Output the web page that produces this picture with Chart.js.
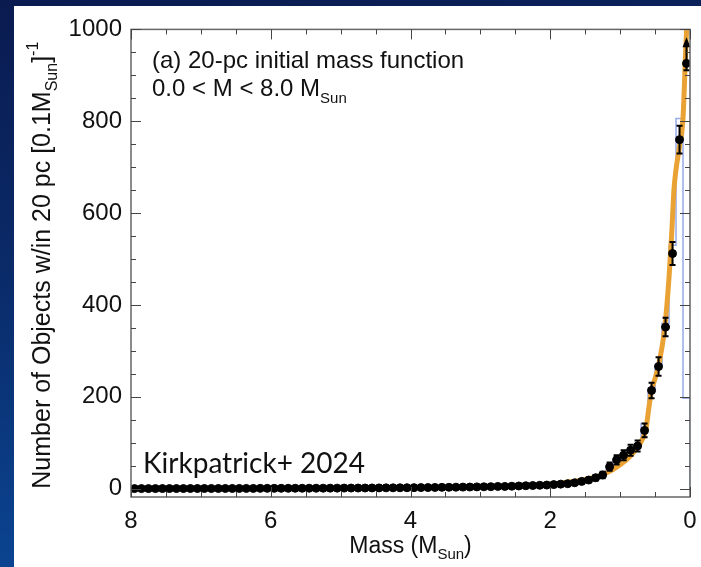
<!DOCTYPE html>
<html>
<head>
<meta charset="utf-8">
<script src="https://cdn.jsdelivr.net/npm/chart.js@4.4.1/dist/chart.umd.min.js"></script>
<style>
  html, body { margin: 0; padding: 0; width: 701px; height: 567px; overflow: hidden; }
  body { background: linear-gradient(172deg, #0a1b50 0%, #0a2a68 40%, #0b4c9e 100%); }
  #panel { position: absolute; left: 14px; top: 6px; width: 687px; height: 561px; background: #fff; }
</style>
</head>
<body>
<div id="panel"><canvas id="imf" width="687" height="561"></canvas></div>
<script>
// 0.1 Msun bins, centre of each bin
const massBins = [
  0.05, 0.15, 0.25, 0.35, 0.45, 0.55, 0.65, 0.75, 0.85, 0.95,
  1.05, 1.15, 1.25, 1.35, 1.45, 1.55, 1.65, 1.75, 1.85, 1.95,
  2.05, 2.15, 2.25, 2.35, 2.45, 2.55, 2.65, 2.75, 2.85, 2.95,
  3.05, 3.15, 3.25, 3.35, 3.45, 3.55, 3.65, 3.75, 3.85, 3.95,
  4.05, 4.15, 4.25, 4.35, 4.45, 4.55, 4.65, 4.75, 4.85, 4.95,
  5.05, 5.15, 5.25, 5.35, 5.45, 5.55, 5.65, 5.75, 5.85, 5.95,
  6.05, 6.15, 6.25, 6.35, 6.45, 6.55, 6.65, 6.75, 6.85, 6.95,
  7.05, 7.15, 7.25, 7.35, 7.45, 7.55, 7.65, 7.75, 7.85, 7.95
];
const binWidth = 0.1;

// corrected space density per bin (points)
const counts = [
  926, 760, 512, 352, 266, 214, 127, 93, 84, 73,
  63, 48, 30, 24, 19, 16, 13, 11, 10, 9,
  8, 7.5, 7, 6.5, 6, 5.5, 5, 5, 4.5, 4.2,
  4, 3.7, 3.5, 3.3, 3.1, 3, 2.8, 2.6, 2.5, 2.4,
  2.2, 2.1, 2, 1.9, 1.8, 1.7, 1.6, 1.5, 1.5, 1.4,
  1.3, 1.3, 1.2, 1.1, 1.1, 1, 1, 0.9, 0.9, 0.8,
  0.8, 0.8, 0.7, 0.7, 0.7, 0.6, 0.6, 0.6, 0.5, 0.5,
  0.5, 0.5, 0.4, 0.4, 0.4, 0.4, 0.3, 0.3, 0.3, 0.3
];
// asymmetric uncertainties (down / up)
const errDown = [
  15, 30, 25, 20, 20, 17, 15, 12, 12, 11,
  10, 9, 7, 6, 5, 5, 4, 4, 3, 3,
  3, 3, 3, 2, 2, 2, 2, 2, 2, 2,
  2, 2, 2, 2, 2, 2, 1, 1, 1, 1,
  1, 1, 1, 1, 1, 1, 1, 1, 1, 1,
  1, 1, 1, 1, 1, 1, 1, 1, 1, 1,
  1, 1, 1, 1, 1, 1, 1, 1, 1, 1,
  1, 1, 1, 1, 1, 1, 1, 1, 1, 1
];
const errUp = [
  48, 30, 25, 20, 20, 17, 15, 12, 12, 11,
  10, 9, 7, 6, 5, 5, 4, 4, 3, 3,
  3, 3, 3, 2, 2, 2, 2, 2, 2, 2,
  2, 2, 2, 2, 2, 2, 1, 1, 1, 1,
  1, 1, 1, 1, 1, 1, 1, 1, 1, 1,
  1, 1, 1, 1, 1, 1, 1, 1, 1, 1,
  1, 1, 1, 1, 1, 1, 1, 1, 1, 1,
  1, 1, 1, 1, 1, 1, 1, 1, 1, 1
];
// first bin is a lower limit
const lowerLimitBins = [0];

// raw histogram per bin (thin step line)
const histCounts = [
  197, 806, 530, 360, 270, 218, 142, 95, 86, 76,
  64, 50, 31, 25, 24, 17, 14, 11, 10, 9,
  8, 7.5, 7, 6.5, 6, 5.5, 5, 5, 4.5, 4.2,
  4, 3.7, 3.5, 3.3, 3.1, 3, 2.8, 2.6, 2.5, 2.4,
  2.2, 2.1, 2, 1.9, 1.8, 1.7, 1.6, 1.5, 1.5, 1.4,
  1.3, 1.3, 1.2, 1.1, 1.1, 1, 1, 0.9, 0.9, 0.8,
  0.8, 0.8, 0.7, 0.7, 0.7, 0.6, 0.6, 0.6, 0.5, 0.5,
  0.5, 0.5, 0.4, 0.4, 0.4, 0.4, 0.3, 0.3, 0.3, 0.3
];

// best-fit IMF curve
const fitMass = [0.03, 0.06, 0.10, 0.15, 0.20, 0.23, 0.26, 0.30, 0.36, 0.41, 0.46, 0.51, 0.55,
  0.59, 0.63, 0.68, 0.75, 0.85, 0.95, 1.05, 1.15, 1.3, 1.5, 1.7, 1.9, 2.2, 2.6, 3.0, 3.5, 4.0,
  5.0, 6.0, 7.0, 8.0];
const fitCounts = [1060, 960, 807, 745, 695, 650, 560, 460, 352, 300, 262, 235, 214,
  175, 130, 108, 90, 72, 58, 47, 38, 28, 20, 15, 11.5, 8, 6, 4.5, 3.3, 2.5,
  1.5, 1.0, 0.7, 0.5];

const xTicks = [0, 2, 4, 6, 8];
const yTicks = [0, 200, 400, 600, 800, 1000];

const FONT = '"Liberation Sans", Arial, sans-serif';
const INK = '#111';

// histogram as left-edge steps, closed at both ends
const histPoints = [{ x: 0, y: 0 }];
massBins.forEach((m, i) => histPoints.push({ x: m - binWidth / 2, y: histCounts[i] }));
histPoints.push({ x: 8, y: histCounts[histCounts.length - 1] });

function drawRich(ctx, x, y, segs) {
  let cx = x;
  segs.forEach(s => {
    ctx.font = s.size + 'px ' + (s.font || FONT);
    ctx.fillText(s.text, cx, y + (s.dy || 0));
    cx += ctx.measureText(s.text).width;
  });
  return cx - x;
}

function richWidth(ctx, segs) {
  let w = 0;
  segs.forEach(s => {
    ctx.font = s.size + 'px ' + (s.font || FONT);
    w += ctx.measureText(s.text).width;
  });
  return w;
}

const decor = {
  id: 'imfDecor',
  beforeDatasetDraw(chart, args) {
    if (args.index !== 0) return;
    // error bars sit under the dots
    const { ctx, scales: { x, y } } = chart;
    ctx.save();
    ctx.strokeStyle = '#000';
    ctx.fillStyle = '#000';
    ctx.lineWidth = 2;
    massBins.forEach((m, i) => {
      const px = x.getPixelForValue(m);
      const lo = y.getPixelForValue(counts[i] - errDown[i]);
      const hi = y.getPixelForValue(counts[i] + errUp[i]);
      if (lo - hi < 3) return;
      ctx.beginPath();
      ctx.moveTo(px, lo);
      ctx.lineTo(px, hi);
      ctx.stroke();
      if (lowerLimitBins.includes(i)) {
        ctx.beginPath();
        ctx.moveTo(px, hi - 4);
        ctx.lineTo(px - 4, hi + 6);
        ctx.lineTo(px + 4, hi + 6);
        ctx.closePath();
        ctx.fill();
        ctx.beginPath();
        ctx.moveTo(px - 3, lo);
        ctx.lineTo(px + 3, lo);
        ctx.stroke();
      } else {
        ctx.beginPath();
        ctx.moveTo(px - 3, lo);
        ctx.lineTo(px + 3, lo);
        ctx.moveTo(px - 3, hi);
        ctx.lineTo(px + 3, hi);
        ctx.stroke();
      }
    });
    ctx.restore();
  },
  afterDraw(chart) {
    const { ctx, chartArea: a, scales: { x, y } } = chart;
    ctx.save();

    // frame
    ctx.strokeStyle = '#666';
    ctx.lineWidth = 1.5;
    ctx.strokeRect(a.left, a.top, a.right - a.left, a.bottom - a.top);

    // inward ticks on all four sides
    ctx.strokeStyle = '#444';
    ctx.lineWidth = 1;
    ctx.beginPath();
    for (let v = 0; v <= 8.001; v += 0.5) {
      const px = Math.round(x.getPixelForValue(v)) + 0.5;
      const len = Math.abs(v - Math.round(v / 2) * 2) < 1e-6 ? 10 : 5;
      ctx.moveTo(px, a.bottom); ctx.lineTo(px, a.bottom - len);
      ctx.moveTo(px, a.top); ctx.lineTo(px, a.top + len);
    }
    for (let v = 0; v <= 1000; v += 50) {
      const py = Math.round(y.getPixelForValue(v)) + 0.5;
      const len = v % 200 === 0 ? 10 : 5;
      ctx.moveTo(a.left, py); ctx.lineTo(a.left + len, py);
      ctx.moveTo(a.right, py); ctx.lineTo(a.right - len, py);
    }
    ctx.stroke();

    ctx.fillStyle = INK;
    ctx.textBaseline = 'alphabetic';

    // x title: Mass (M_Sun)
    const xt = [
      { text: 'Mass (M', size: 23 },
      { text: 'Sun', size: 15, dy: 6 },
      { text: ')', size: 23 }
    ];
    const xw = richWidth(ctx, xt);
    drawRich(ctx, (a.left + a.right) / 2 - xw / 2, 547, xt);

    // y title, rotated
    const yt = [
      { text: 'Number of Objects w/in 20 pc [0.1M', size: 25 },
      { text: 'Sun', size: 16, dy: 7 },
      { text: ']', size: 25 },
      { text: '-1', size: 16, dy: -12 }
    ];
    const yw = richWidth(ctx, yt);
    ctx.save();
    ctx.translate(36, (a.top + a.bottom) / 2 + yw / 2 + 2);
    ctx.rotate(-Math.PI / 2);
    drawRich(ctx, 0, 0, yt);
    ctx.restore();

    // panel labels
    drawRich(ctx, 138, 62, [{ text: '(a) 20-pc initial mass function', size: 24 }]);
    drawRich(ctx, 138, 90, [
      { text: '0.0 < M < 8.0 M', size: 24 },
      { text: 'Sun', size: 15, dy: 7 }
    ]);
    drawRich(ctx, 129, 467, [{ text: 'Kirkpatrick+ 2024', size: 28, font: 'Lato, "Open Sans", sans-serif' }]);

    ctx.restore();
  }
};

new Chart(document.getElementById('imf'), {
  type: 'scatter',
  data: {
    datasets: [
      {
        label: 'IMF bins',
        data: massBins.map((m, i) => ({ x: m, y: counts[i] })),
        backgroundColor: '#000',
        borderColor: '#000',
        pointRadius: 4,
        pointHoverRadius: 4
      },
      {
        label: 'fit',
        type: 'line',
        data: fitMass.map((m, i) => ({ x: m, y: fitCounts[i] })),
        borderColor: '#e9a233',
        borderWidth: 5,
        pointRadius: 0,
        cubicInterpolationMode: 'monotone',
        fill: false,
        clip: 0
      },
      {
        label: 'histogram',
        type: 'line',
        data: histPoints,
        borderColor: '#97aae8',
        borderWidth: 1.5,
        pointRadius: 0,
        stepped: 'before',
        fill: false,
        clip: 0
      }
    ]
  },
  options: {
    responsive: false,
    animation: false,
    layout: { padding: { left: 0, top: 20, right: 11, bottom: 0 } },
    plugins: { legend: { display: false }, tooltip: { enabled: false } },
    scales: {
      x: {
        type: 'linear',
        reverse: true,
        min: 0,
        max: 8,
        afterBuildTicks: s => { s.ticks = xTicks.map(v => ({ value: v })); },
        afterFit: s => { s.height = 70; },
        grid: { display: false, drawTicks: false },
        border: { display: false },
        ticks: {
          autoSkip: false, maxRotation: 0, padding: 10, color: INK,
          font: { family: FONT, size: 24 },
          callback: v => String(v)
        }
      },
      y: {
        type: 'linear',
        min: -18,
        max: 1000,
        afterBuildTicks: s => { s.ticks = yTicks.map(v => ({ value: v })); },
        afterFit: s => { s.width = 117; },
        grid: { display: false, drawTicks: false },
        border: { display: false },
        ticks: {
          autoSkip: false, padding: 9, color: INK,
          font: { family: FONT, size: 24 },
          callback: v => String(v)
        }
      }
    }
  },
  plugins: [decor]
});
</script>
</body>
</html>
